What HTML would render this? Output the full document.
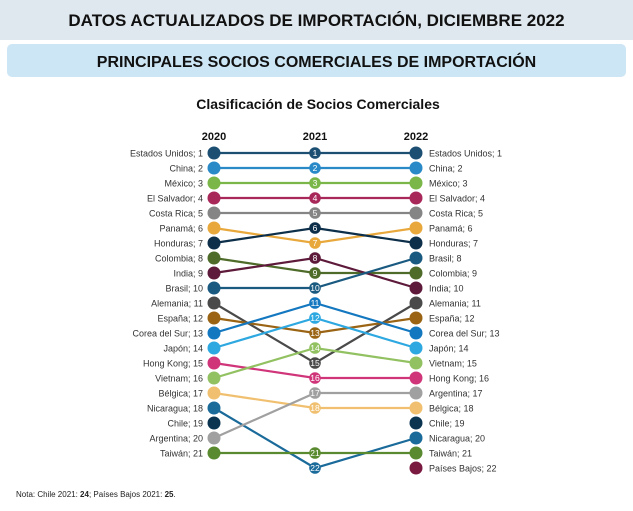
<!DOCTYPE html>
<html><head><meta charset="utf-8"><style>
body{margin:0;width:633px;height:511px;background:#fff;overflow:hidden;font-family:"Liberation Sans",sans-serif}
svg{display:block}
</style></head><body>
<svg width="633" height="511" viewBox="0 0 633 511" xmlns="http://www.w3.org/2000/svg" font-family="Liberation Sans, sans-serif">
<rect x="0" y="0" width="633" height="40" fill="#dfe8ee"/>
<text x="316.5" y="26" text-anchor="middle" font-size="17" font-weight="bold" fill="#111">DATOS ACTUALIZADOS DE IMPORTACIÓN, DICIEMBRE 2022</text>
<rect x="7" y="44" width="619" height="33" rx="5" fill="#cde6f5"/>
<text x="316.5" y="67" text-anchor="middle" font-size="16" font-weight="bold" fill="#111">PRINCIPALES SOCIOS COMERCIALES DE IMPORTACIÓN</text>
<text x="318" y="109" text-anchor="middle" font-size="14" font-weight="bold" fill="#111">Clasificación de Socios Comerciales</text>
<g font-size="11" font-weight="bold" text-anchor="middle" fill="#111">
<text x="214" y="140">2020</text><text x="315" y="140">2021</text><text x="416" y="140">2022</text></g>
<g id="c"></g>
<text x="16" y="497" font-size="8" fill="#222">Nota: Chile 2021: <tspan font-weight="bold">24</tspan>; Países Bajos 2021: <tspan font-weight="bold">25</tspan>.</text>
</svg>
<script>
const D=[["Estados Unidos",1,1,1,"#1d4f73"],["China",2,2,2,"#2a8ac8"],["México",3,3,3,"#7ab648"],["El Salvador",4,4,4,"#a8285a"],["Costa Rica",5,5,5,"#858585"],["Panamá",6,7,6,"#e8a83c"],["Honduras",7,6,7,"#0d2f4a"],["Colombia",8,9,9,"#4e6b2a"],["India",9,8,10,"#5e1a3a"],["Brasil",10,10,8,"#1a5a80"],["Alemania",11,15,11,"#4a4a4a"],["España",12,13,12,"#9a6414"],["Corea del Sur",13,11,13,"#1478c0"],["Japón",14,12,14,"#2ea8e0"],["Hong Kong",15,16,16,"#d0357a"],["Vietnam",16,14,15,"#92c162"],["Bélgica",17,18,18,"#f0c070"],["Nicaragua",18,22,20,"#1a6a9a"],["Chile",19,0,19,"#0b3450"],["Argentina",20,17,17,"#a0a0a0"],["Taiwán",21,21,21,"#5a8a30"],["Países Bajos",0,0,22,"#7a1a40"]];
const Y=r=>153+(r-1)*15,X=[214,315,416];let s="";
for(const d of D){const [n,a,b,c,col]=d;const pts=[[X[0],a],[X[1],b],[X[2],c]].filter(p=>p[1]);
if(pts.length>1&&b)s+=`<polyline points="${pts.map(p=>p[0]+','+Y(p[1])).join(' ')}" fill="none" stroke="${col}" stroke-width="2.2"/>`;}
for(const d of D){const [n,a,b,c,col]=d;
if(a){s+=`<circle cx="${X[0]}" cy="${Y(a)}" r="6.5" fill="${col}"/><text x="203" y="${Y(a)+3.5}" text-anchor="end" font-size="9" fill="#333">${n}; ${a}</text>`;}
if(c){s+=`<circle cx="${X[2]}" cy="${Y(c)}" r="6.5" fill="${col}"/><text x="429" y="${Y(c)+3.5}" font-size="9" fill="#333">${n}; ${c}</text>`;}
if(b){s+=`<circle cx="${X[1]}" cy="${Y(b)}" r="5.8" fill="${col}"/><text x="${X[1]}" y="${Y(b)+3.2}" text-anchor="middle" font-size="8.5" fill="#fff">${b}</text>`;}}
document.getElementById("c").innerHTML=s;
</script>
</body></html>
